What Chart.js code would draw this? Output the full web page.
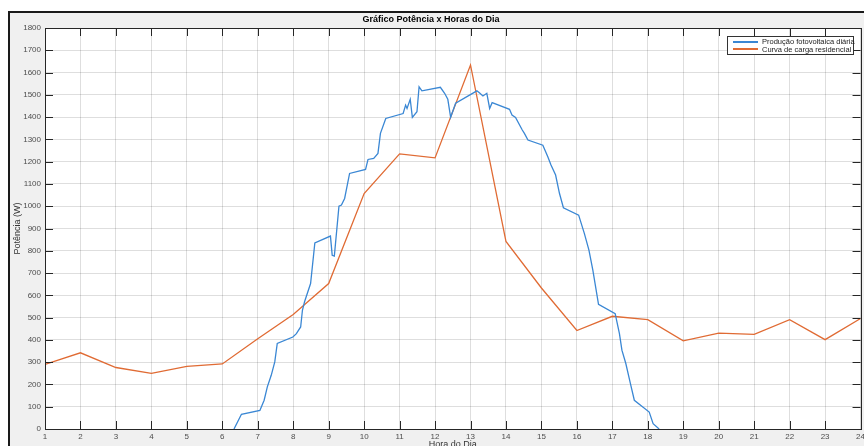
<!DOCTYPE html>
<html>
<head>
<meta charset="utf-8">
<script src="https://cdn.jsdelivr.net/npm/chart.js@4/dist/chart.umd.min.js"></script>
<style>
  html, body { margin: 0; padding: 0; background: #fff; }
  #wrap { position: relative; width: 864px; height: 446px; overflow: hidden; }
  #frame {
    position: absolute; left: 8px; top: 11px; width: 900px; height: 500px;
    border-top: 2px solid #1a1a1a; border-left: 2px solid #1a1a1a;
    background: #f0f0f0;
  }
  #chart { position: absolute; left: 0; top: 0; }
  #legend {
    position: absolute; left: 727px; top: 36px; width: 125px; height: 16px;
    background: #fff; border: 1px solid #333; padding-top: 1px;
    font-family: "Liberation Sans", Arial, sans-serif; font-size: 7.5px; color: #222;
  }
  .row { display: flex; align-items: center; height: 7.5px; white-space: nowrap; }
  .swatch { display: block; flex: 0 0 25px; height: 2px; margin: 0 4px 0 5px; }
</style>
</head>
<body>
<div id="wrap">
  <div id="frame"></div>
  <canvas id="chart" width="868" height="452"></canvas>
  <div id="legend"></div>
</div>
<script>
const titleText = "Gráfico Potência x Horas do Dia";
const xTitle = "Hora do Dia";
const yTitle = "Potência (W)";
const seriesNames = ["Produção fotovoltaica diária", "Curva de carga residencial"];

const pvHours = [
  6.33, 6.54, 7.06, 7.18, 7.27, 7.38, 7.48, 7.55, 7.99, 8.09, 8.21, 8.26, 8.32, 8.49, 8.61,
  9.05, 9.10, 9.16, 9.29, 9.36, 9.45, 9.59, 10.04, 10.11, 10.27, 10.39, 10.46, 10.61,
  11.10, 11.17, 11.21, 11.30, 11.36, 11.49, 11.55, 11.63, 12.15, 12.27, 12.36, 12.44, 12.58,
  13.18, 13.25, 13.35, 13.46, 13.54, 13.61, 14.10, 14.17, 14.27, 14.46, 14.52, 14.62,
  15.04, 15.18, 15.27, 15.40, 15.51, 15.62, 16.05, 16.21, 16.34, 16.45, 16.61,
  17.08, 17.20, 17.27, 17.38, 17.51, 17.62, 18.04, 18.15, 18.32
];
const pvPower = [
  0, 66, 83, 129, 189, 241, 301, 384, 413, 428, 458, 533, 571, 653, 835,
  866, 780, 776, 1000, 1005, 1035, 1147, 1165, 1210, 1215, 1237, 1327, 1394,
  1416, 1454, 1439, 1480, 1399, 1424, 1536, 1518, 1534, 1507, 1480, 1399, 1462,
  1518, 1509, 1495, 1507, 1439, 1465, 1435, 1409, 1399, 1342, 1327, 1297,
  1274, 1222, 1185, 1140, 1057, 993, 960, 878, 803, 713, 560,
  518, 428, 354, 294, 204, 129, 76, 24, 0
];

const loadHours = [1, 2, 3, 4, 5, 6, 7, 8, 9, 10, 11, 12, 13, 14, 15, 16, 17, 18, 19, 20, 21, 22, 23, 24];
const loadPower = [290, 342, 276, 250, 281, 292, 405, 514, 653, 1057, 1235, 1217, 1634, 842, 633, 442, 506, 491, 396, 430, 425, 491, 401, 496];

const xMin = 1, xMax = 24, xStep = 1;
const yMin = 0, yMax = 1800, yStep = 100;

const tickFont = { family: "Liberation Sans", size: 8 };
const tickColor = "#4d4d4d";
const gridColor = "rgba(0,0,0,0.13)";

const plotBackground = {
  id: "plotBackground",
  beforeDraw(chart) {
    const { ctx, chartArea: a } = chart;
    ctx.save();
    ctx.fillStyle = "#fff";
    ctx.fillRect(a.left, a.top, a.right - a.left, a.bottom - a.top);
    ctx.restore();
  },
};

// matlab style box with inward tick marks
const axisBox = {
  id: "axisBox",
  afterDraw(chart) {
    const { ctx, chartArea: a, scales } = chart;
    const len = 8;
    ctx.save();
    ctx.strokeStyle = "#262626";
    ctx.lineWidth = 1;
    ctx.beginPath();
    scales.x.ticks.forEach((t) => {
      const px = Math.round(scales.x.getPixelForValue(t.value)) + 0.5;
      ctx.moveTo(px, a.bottom); ctx.lineTo(px, a.bottom - len);
      ctx.moveTo(px, a.top); ctx.lineTo(px, a.top + len);
    });
    scales.y.ticks.forEach((t) => {
      const py = Math.round(scales.y.getPixelForValue(t.value)) + 0.5;
      ctx.moveTo(a.left, py); ctx.lineTo(a.left + len, py);
      ctx.moveTo(a.right, py); ctx.lineTo(a.right - len, py);
    });
    ctx.stroke();
    ctx.strokeRect(Math.round(a.left) + 0.5, Math.round(a.top) + 0.5,
      Math.round(a.right - a.left), Math.round(a.bottom - a.top));
    ctx.restore();
  },
};

const chart = new Chart(document.getElementById("chart"), {
  type: "line",
  data: {
    datasets: [
      {
        label: seriesNames[0],
        data: pvHours.map((h, i) => ({ x: h, y: pvPower[i] })),
        borderColor: "#3a87d4",
        borderWidth: 1.3,
        pointRadius: 0,
        tension: 0,
      },
      {
        label: seriesNames[1],
        data: loadHours.map((h, i) => ({ x: h, y: loadPower[i] })),
        borderColor: "#e06b34",
        borderWidth: 1.3,
        pointRadius: 0,
        tension: 0,
      },
    ],
  },
  options: {
    responsive: false,
    animation: false,
    devicePixelRatio: 1,
    layout: { padding: { left: 0, right: 6, top: 0, bottom: 0 } },
    plugins: {
      legend: { display: false },
      tooltip: { enabled: false },
      title: {
        display: true,
        text: titleText,
        color: "#000",
        font: { family: "Liberation Sans", size: 9, weight: "bold" },
        padding: { top: 14.6, bottom: 2.6 },
      },
    },
    scales: {
      x: {
        type: "linear",
        min: xMin,
        max: xMax,
        ticks: {
          stepSize: xStep, font: tickFont, color: tickColor, padding: 3, maxRotation: 0,
          callback: (v) => String(v),
        },
        grid: { color: gridColor, drawTicks: false },
        border: { display: false },
        title: {
          display: true,
          text: xTitle,
          color: "#333",
          font: { family: "Liberation Sans", size: 9 },
          padding: { top: 0, bottom: 2 },
        },
        afterFit(scale) { scale.height = 23; },
      },
      y: {
        min: yMin,
        max: yMax,
        ticks: {
          stepSize: yStep, font: tickFont, color: tickColor, padding: 4,
          callback: (v) => String(v),
        },
        grid: { color: gridColor, drawTicks: false },
        border: { display: false },
        title: {
          display: true,
          text: yTitle,
          color: "#333",
          font: { family: "Liberation Sans", size: 9 },
          padding: { top: 12, bottom: 0 },
        },
        afterFit(scale) { scale.width = 45; },
      },
    },
  },
  plugins: [plotBackground, axisBox],
});

const legend = document.getElementById("legend");
chart.data.datasets.forEach((ds) => {
  const row = document.createElement("div");
  row.className = "row";
  const swatch = document.createElement("span");
  swatch.className = "swatch";
  swatch.style.backgroundColor = ds.borderColor;
  const label = document.createElement("span");
  label.textContent = ds.label;
  row.appendChild(swatch);
  row.appendChild(label);
  legend.appendChild(row);
});
</script>
</body>
</html>
